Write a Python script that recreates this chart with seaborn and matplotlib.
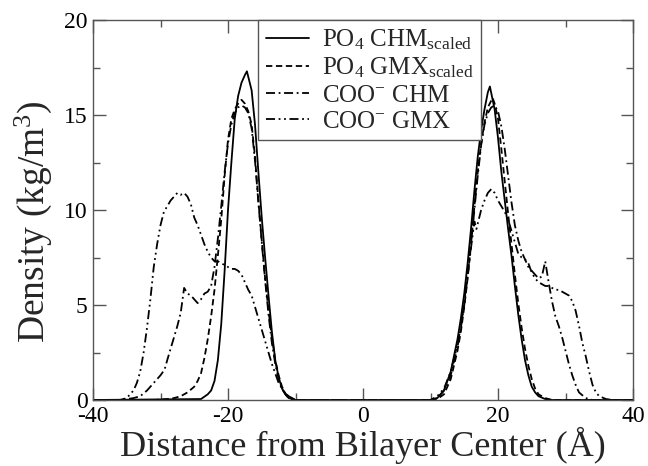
import numpy as np
import pandas as pd
import seaborn as sns
import matplotlib.pyplot as plt
from matplotlib.ticker import MultipleLocator

# density profiles (distance in A, density in kg/m^3)
po4_chm_x = [-40, -24, -23, -22.5, -22, -21.5, -21, -20.5, -20, -19.5, -19, -18.5, -18, -17.5, -17.2,
             -16.5, -16, -15.5, -15, -14.5, -14, -13.5, -13, -12.5, -12, -11.5, -11, -10,
             10, 11, 12, 13, 14, 14.5, 15, 15.5, 16, 16.5, 17, 17.5, 18, 18.5, 18.8,
             19.5, 20, 20.5, 21, 21.5, 22, 22.5, 23, 23.5, 24, 24.5, 25, 25.5, 26, 27, 28, 40]
po4_chm_y = [0, 0.05, 0.3, 0.5, 1.0, 2.1, 4.0, 6.8, 10.0, 12.5, 14.8, 16.0, 16.7, 17.1, 17.3,
             16.3, 14.5, 12.0, 9.6, 7.5, 5.5, 3.6, 2.1, 1.2, 0.6, 0.3, 0.1, 0,
             0, 0.1, 0.5, 1.5, 3.2, 4.3, 5.6, 7.2, 9.0, 11.0, 12.8, 14.2, 15.3, 16.2, 16.5,
             15.3, 13.8, 12.0, 10.5, 9.0, 7.6, 6.0, 4.5, 3.2, 2.1, 1.3, 0.7, 0.4, 0.2, 0.05, 0, 0]

po4_gmx_x = [-40, -31, -29, -28, -27, -26, -25, -24.5, -24, -23.5, -23, -22.5, -22, -21.5, -21,
             -20.5, -20, -19.5, -19, -18.5, -18, -17.5, -17, -16.5, -16, -15.5, -15, -14.5, -14,
             -13.5, -13, -12.5, -12, -11.5, -11, -10,
             10, 11, 12, 13, 14, 14.5, 15, 15.5, 16, 16.5, 17, 17.5, 18, 18.5, 19.2,
             19.5, 20, 20.5, 21, 21.5, 22, 22.5, 23, 23.5, 24, 24.5, 25, 25.5, 26, 27, 28, 40]
po4_gmx_y = [0, 0, 0.05, 0.1, 0.2, 0.4, 0.7, 1.0, 1.4, 2.2, 3.2, 4.4, 5.8, 7.6, 9.5,
             11.8, 13.7, 14.8, 15.3, 15.6, 15.8, 15.6, 15.2, 14.5, 12.8, 10.5, 8.4, 6.4, 4.7,
             3.3, 2.1, 1.3, 0.7, 0.35, 0.15, 0,
             0, 0.05, 0.3, 1.1, 2.6, 3.6, 4.9, 6.4, 8.2, 10.2, 12.0, 13.5, 14.6, 15.4, 15.9,
             15.6, 14.8, 13.2, 11.5, 9.8, 8.2, 6.6, 5.1, 3.8, 2.7, 1.8, 1.1, 0.6, 0.3, 0.1, 0, 0]

coo_chm_x = [-40, -36, -35, -34, -33, -32, -31, -30, -29.4, -29, -28.5, -28, -27.5, -27, -26.5,
             -26, -25.5, -25, -24.5, -24, -23.5, -23, -22.5, -22, -21.5, -21, -20.5, -20, -19.5,
             -19, -18.5, -18, -17.5, -17, -16.5, -16, -15.5, -15, -14.5, -14, -13.5, -13, -12.5,
             -12, -11.5, -11, -10,
             10, 11, 12, 13, 14, 14.5, 15, 15.5, 16, 16.5, 17, 17.5, 18, 18.5, 19, 19.5,
             20, 20.5, 21, 21.5, 22, 22.5, 23, 23.5, 24, 24.5, 25, 25.5, 26, 26.5, 27, 27.5,
             28, 28.5, 29, 29.5, 30, 30.5, 31, 31.5, 32, 33, 34, 40]
coo_chm_y = [0, 0, 0.05, 0.1, 0.2, 0.5, 0.9, 1.3, 1.6, 2.1, 2.7, 3.3, 3.9, 4.6, 5.9,
             5.6, 5.5, 5.3, 5.1, 5.3, 5.6, 5.7, 6.0, 7.0, 8.5, 10.2, 12.0, 13.5, 14.5,
             15.1, 15.4, 15.5, 15.4, 15.1, 14.3, 12.6, 10.4, 8.3, 6.3, 4.5, 3.0, 1.9, 1.1,
             0.6, 0.3, 0.1, 0,
             0, 0.1, 0.5, 1.3, 2.8, 3.8, 5.0, 6.5, 8.2, 10.0, 11.8, 13.4, 14.5, 15.1, 15.4, 15.5,
             15.2, 14.4, 13.2, 11.8, 10.4, 9.2, 8.4, 7.8, 7.4, 7.0, 6.8, 6.6, 6.4, 6.5, 7.3, 6.2,
             5.2, 4.4, 3.9, 3.3, 2.6, 1.9, 1.3, 0.8, 0.4, 0.1, 0, 0]

coo_gmx_x = [-40, -36, -35, -34.5, -34, -33.5, -33, -32.5, -32, -31.5, -31, -30.5, -30, -29.5,
             -29, -28.5, -28, -27.5, -27, -26.5, -26, -25.5, -25, -24.5, -24, -23.5, -23, -22.5,
             -22, -21.5, -21, -20.5, -20, -19.5, -19, -18.5, -18, -17.5, -17, -16.5, -16, -15.5,
             -15, -14.5, -14, -13.5, -13, -12.5, -12, -11.5, -11, -10.5, -10,
             10, 11, 12, 13, 14, 14.5, 15, 15.5, 16, 16.5, 16.8, 17.5, 18, 18.5, 19, 19.5,
             20, 20.5, 21, 21.5, 22, 22.5, 23, 23.5, 24, 24.5, 25, 25.5, 26, 26.5, 27, 27.5,
             28, 28.5, 29, 29.5, 30, 30.5, 31, 31.5, 32, 32.5, 33, 33.5, 34, 34.5, 35, 36, 37, 40]
coo_gmx_y = [0, 0, 0.1, 0.3, 0.5, 0.9, 1.5, 2.5, 3.8, 5.3, 7.0, 8.2, 9.2, 9.9,
             10.2, 10.5, 10.7, 10.9, 10.8, 10.9, 10.7, 10.3, 9.6, 9.2, 8.7, 8.2, 7.8, 7.5,
             7.3, 7.3, 7.2, 7.1, 7.0, 6.9, 6.9, 6.8, 6.6, 6.2, 5.8, 5.5, 4.9, 4.3,
             3.7, 3.1, 2.5, 1.9, 1.4, 0.9, 0.6, 0.35, 0.2, 0.1, 0,
             0, 0.2, 0.6, 1.5, 2.9, 3.9, 5.2, 6.6, 8.0, 9.4, 9.0, 10.0, 10.5, 10.9, 11.1, 10.9,
             10.5, 10.2, 9.9, 9.5, 8.9, 8.3, 7.7, 7.5, 7.4, 7.2, 6.7, 6.4, 6.2, 6.1, 6.0, 6.0,
             5.9, 5.8, 5.8, 5.7, 5.6, 5.5, 5.2, 4.7, 3.9, 3.0, 2.3, 1.5, 0.8, 0.4, 0.2, 0.05, 0, 0]

labels = ['PO$_4$ CHM$_{\\mathregular{scaled}}$', 'PO$_4$ GMX$_{\\mathregular{scaled}}$',
          'COO$^{-}$ CHM', 'COO$^{-}$ GMX']

sns.set_style('ticks')
plt.rcParams['font.family'] = ['Liberation Serif', 'DejaVu Serif']
plt.rcParams['mathtext.fontset'] = 'custom'
plt.rcParams['mathtext.rm'] = 'Liberation Serif'
plt.rcParams['mathtext.it'] = 'Liberation Serif:italic'
plt.rcParams['axes.unicode_minus'] = False

fig = plt.figure(figsize=(6.48, 4.66), dpi=100)
ax = fig.add_axes([93 / 648, 66 / 466, 540 / 648, 380 / 466])

series = [(po4_chm_x, po4_chm_y, '-'),
          (po4_gmx_x, po4_gmx_y, (0, (3.5, 2))),
          (coo_chm_x, coo_chm_y, (0, (5, 2, 1, 2))),
          (coo_gmx_x, coo_gmx_y, (0, (5, 2, 1, 2, 1, 2)))]
for (xs, ys, ls), lab in zip(series, labels):
    sns.lineplot(x=xs, y=ys, ax=ax, color='black', linewidth=1.3, linestyle=ls, label=lab)

ax.set_xlim(-40, 40)
ax.set_ylim(0, 20)
ax.xaxis.set_major_locator(MultipleLocator(20))
ax.xaxis.set_minor_locator(MultipleLocator(10))
ax.yaxis.set_major_locator(MultipleLocator(5))
ax.yaxis.set_minor_locator(MultipleLocator(2.5))
ax.tick_params(which='both', direction='in', top=True, right=True, color='#555555', width=1)
ax.tick_params(which='major', length=9, labelsize=17, labelcolor='black', pad=4)
ax.tick_params(which='minor', length=5)
for sp in ax.spines.values():
    sp.set_color('#555555')
    sp.set_linewidth(1)

ax.set_xlabel('Distance from Bilayer Center (Å)', fontsize=26, labelpad=0)
ax.set_ylabel('Density (kg/m$^3$)', fontsize=27)
ax.yaxis.set_label_coords(-0.072, 0.47)

leg = ax.legend(loc='upper left', bbox_to_anchor=(0.306, 1.0), fontsize=18, frameon=True,
                fancybox=False, framealpha=1, edgecolor='#555555', handlelength=1.75,
                borderpad=0.3, labelspacing=0.15, handletextpad=0.5, borderaxespad=0)
leg.get_frame().set_linewidth(1)

fig.savefig('out.png', dpi=100)
